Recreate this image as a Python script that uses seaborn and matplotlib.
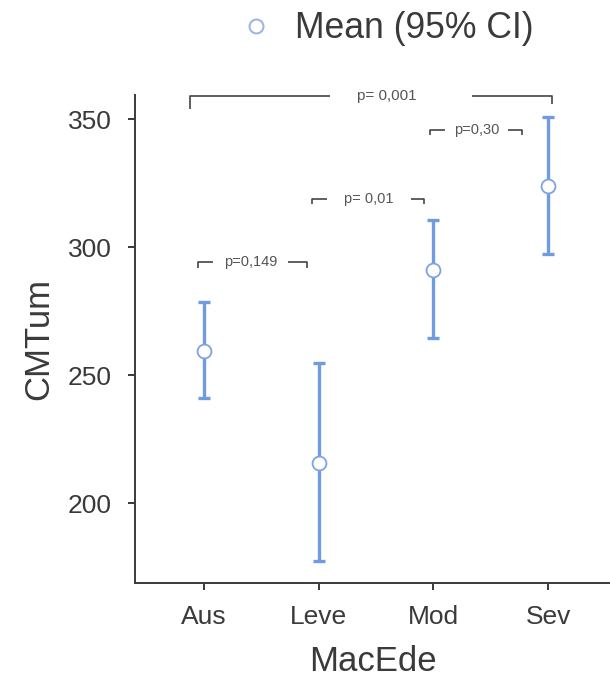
import matplotlib
matplotlib.use("Agg")
import matplotlib.pyplot as plt
from matplotlib.lines import Line2D
import seaborn as sns
import pandas as pd

# Mean CMTum by MacEde group with 95% CI bounds
groups = ["Aus", "Leve", "Mod", "Sev"]
means = [259.5, 215.6, 291.0, 323.8]
ci_low = [241.0, 177.3, 264.5, 297.3]
ci_high = [278.5, 254.7, 310.5, 350.8]

# Pairwise comparison labels
pair_labels = ["p=0,149", "p= 0,01", "p=0,30"]
overall_label = "p= 0,001"

df = pd.DataFrame({"MacEde": groups, "CMTum": means, "lo": ci_low, "hi": ci_high})

sns.set_theme(style="ticks")
plt.rcParams["font.family"] = ["Liberation Sans", "DejaVu Sans"]

blue = "#6f9be2"
ink = "#3a3a3a"

fig = plt.figure(figsize=(6.1, 6.86), dpi=100)
ax = fig.add_axes([0.222, 0.150, 0.778, 0.711])

# CI bars
ax.errorbar(range(len(groups)), df["CMTum"],
            yerr=[df["CMTum"] - df["lo"], df["hi"] - df["CMTum"]],
            fmt="none", ecolor=blue, elinewidth=2.4, capsize=4.2,
            capthick=2.4, zorder=2)

# Means
sns.pointplot(data=df, x="MacEde", y="CMTum", errorbar=None, ax=ax,
              linestyle="none", marker="o", markersize=10,
              markerfacecolor="white", markeredgecolor="#7ea3e0",
              markeredgewidth=1.3, color=blue, zorder=4)
for ln in ax.lines:
    if ln.get_marker() == "o":
        ln.set_zorder(5)

ax.set_xlim(-0.6, 3.54)
ax.set_ylim(168.75, 359.4)
ax.set_yticks([200, 250, 300, 350])
ax.set_xlabel("MacEde", fontsize=25, color=ink, labelpad=11)
ax.set_ylabel("CMTum", fontsize=25, color=ink, labelpad=9)
ax.tick_params(axis="both", labelsize=19, colors=ink, length=5, width=1.4)
ax.tick_params(axis="x", pad=11)
ax.tick_params(axis="y", pad=12)
for s in ("top", "right"):
    ax.spines[s].set_visible(False)
for s in ("left", "bottom"):
    ax.spines[s].set_color(ink)
    ax.spines[s].set_linewidth(1.4)

br_col = "#444444"
br_kw = dict(color=br_col, lw=1.2, clip_on=False, solid_capstyle="butt")


def small_bracket(x0, x1, tx0, tx1, y, label, drop=2.0):
    ax.plot([x0, x0, tx0], [y - drop, y, y], **br_kw)
    ax.plot([tx1, x1, x1], [y, y, y - drop], **br_kw)
    ax.text((tx0 + tx1) / 2, y, label, ha="center", va="center",
            fontsize=10.5, color="#555555")


small_bracket(-0.05, 0.90, 0.08, 0.73, 294.1, pair_labels[0])
small_bracket(0.94, 1.92, 1.07, 1.80, 318.8, pair_labels[1])
small_bracket(1.97, 2.77, 2.10, 2.65, 346.0, pair_labels[2])

# Overall comparison bracket across all groups
yo = 359.0
ax.plot([-0.12, -0.12, 1.10], [yo - 5.0, yo, yo], **br_kw)
ax.plot([2.34, 3.03, 3.03], [yo, yo, yo - 3.0], **br_kw)
ax.text(1.59, yo, overall_label, ha="center", va="center",
        fontsize=11, color="#555555")

handle = Line2D([], [], linestyle="none", marker="o", markersize=10,
                markerfacecolor="white", markeredgecolor="#9db6e6",
                markeredgewidth=1.5)
fig.legend([handle], ["Mean (95% CI)"], loc="center",
           bbox_to_anchor=(0.635, 0.958), frameon=False, fontsize=25.6,
           handletextpad=0.7, labelcolor=ink, handlelength=0.8)

fig.savefig("out.png", dpi=100, facecolor="white")
